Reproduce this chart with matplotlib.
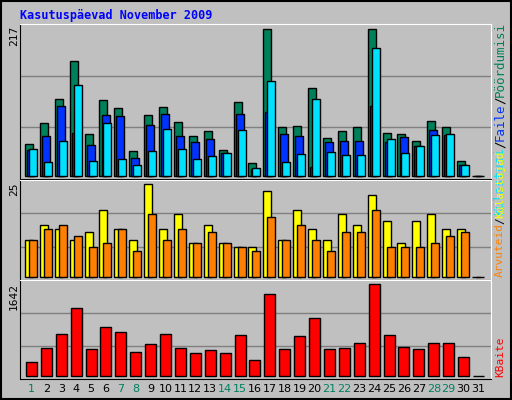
import numpy as np
import matplotlib.pyplot as plt

days = np.arange(1, 32)
day_labels = [str(d) for d in days]
weekend = [1, 7, 8, 14, 15, 21, 22, 28, 29]

# top panel
poordumisi = [48, 79, 114, 170, 62, 113, 101, 37, 91, 102, 80, 60, 67, 39, 110, 20,
              217, 73, 74, 130, 57, 67, 73, 217, 64, 62, 52, 82, 73, 23, 0]
faile = [39, 60, 104, 64, 46, 91, 89, 27, 76, 92, 60, 51, 55, 34, 92, 11,
         95, 62, 60, 14, 51, 52, 52, 104, 51, 58, 45, 68, 61, 17, 0]
kylastusi = [40, 21, 52, 135, 23, 79, 26, 17, 37, 70, 40, 26, 30, 34, 68, 12,
             141, 21, 33, 114, 36, 31, 31, 189, 55, 34, 45, 61, 62, 17, 0]
# middle panel
kylastajad = [10, 14, 13, 10, 12, 18, 13, 10, 25, 13, 17, 9, 14, 9, 8, 8,
              23, 10, 18, 13, 10, 17, 14, 22, 15, 9, 15, 17, 13, 13, 0]
arvuteid = [10, 13, 14, 11, 8, 9, 13, 7, 17, 10, 13, 9, 12, 9, 8, 7,
            16, 10, 14, 10, 7, 12, 12, 18, 8, 8, 8, 9, 11, 12, 0]
# bottom panel
kbaite = [240, 491, 743, 1210, 473, 869, 779, 419, 563, 743, 491, 401, 455, 401, 725, 276,
          1462, 473, 707, 1031, 473, 491, 581, 1642, 725, 509, 473, 581, 581, 330, 0]

W, H = 512, 400
bg = '#c0c0c0'
fig = plt.figure(figsize=(W / 100, H / 100), dpi=100, facecolor=bg)
fig.patches.append(plt.Rectangle((0.002, 0.002), 0.996, 0.996, transform=fig.transFigure,
                                 fill=False, ec='black', lw=1.5))

def ax_px(x0, y0, x1, y1):
    return fig.add_axes([x0 / W, 1 - y1 / H, (x1 - x0) / W, (y1 - y0) / H])

xlim = (0.23, 31.84)
bw = 0.54

def setup(ax, ylo, yhi):
    ax.set_facecolor(bg)
    ax.set_xlim(*xlim)
    ax.set_ylim(ylo, yhi)
    for g in (1, 2):
        ax.axhline(ylo + (yhi - ylo) * g / 3, color='#808080', lw=1, zorder=0)
    ax.set_xticks([])
    ax.set_yticks([])
    for s in ('top', 'right'):
        ax.spines[s].set_color('white')
    for s in ('bottom', 'left'):
        ax.spines[s].set_color('black')

ax1 = ax_px(20, 24, 491, 179)
setup(ax1, -3.8, 224.3)
ax1.bar(days - 0.17, poordumisi, bw, color='#00805a', ec='black', lw=1)
ax1.bar(days - 0.03, faile, bw, color='#0033ff', ec='black', lw=1)
ax1.bar(days + 0.1, kylastusi, bw, color='#00e0ff', ec='black', lw=1)

ax2 = ax_px(20, 180, 491, 280)
setup(ax2, -0.9, 26.1)
ax2.bar(days - 0.17, kylastajad, bw, color='#ffff00', ec='black', lw=1)
ax2.bar(days + 0.1, arvuteid, bw, color='#ff8000', ec='black', lw=1)

ax3 = ax_px(20, 280, 491, 379)
setup(ax3, -59, 1713)
ax3.bar(days, kbaite, 0.74, color='#ff0000', ec='black', lw=1)

mono = 'DejaVu Sans Mono'
fig.text(20 / W, 1 - 15 / H, 'Kasutuspäevad November 2009', color='#0000ff',
         fontsize=8.5, fontweight='bold', family=mono, va='center')
for txt, yt in (('217', 26), ('25', 182), ('1642', 283)):
    fig.text(14 / W, 1 - yt / H, txt, rotation=90, fontsize=8, family=mono,
             ha='center', va='top')

for i, d in enumerate(days):
    fig.text((20 + (d - xlim[0]) / (xlim[1] - xlim[0]) * 471) / W, 1 - 389 / H,
             day_labels[i], ha='center', va='center', fontsize=8,
             color='#008060' if d in weekend else 'black')

def vlabel(parts, ybottom, size=8, step=6.6):
    y = ybottom
    for txt, col in parts:
        fig.text(500 / W, 1 - y / H, txt, rotation=90, color=col, fontsize=size,
                 family=mono, ha='center', va='bottom')
        y -= len(txt) * step

vlabel([('Külastusi', '#00e0ff'), ('/', '#000000'), ('Faile', '#0033ff'),
        ('/', '#000000'), ('Pöördumisi', '#00805a')], 215, 9, 7.4)
vlabel([('Arvuteid', '#ff8000'), ('/', '#000000'), ('Külastajad', '#ffff00')], 277, 8, 6.6)
vlabel([('KBaite', '#ff0000')], 377)

fig.savefig('out.png', dpi=100, facecolor=bg)
